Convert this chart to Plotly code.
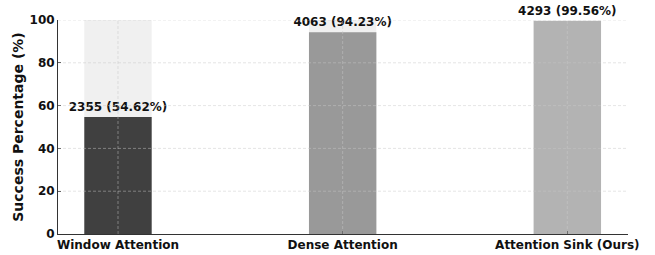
import plotly.graph_objects as go

categories = ["Window Attention", "Dense Attention", "Attention Sink (Ours)"]
success_counts = [2355, 4063, 4293]
success_pct = [54.62, 94.23, 99.56]
full_pct = [100, 100, 100]
bar_colors = ["#404040", "#999999", "#b3b3b3"]
y_ticks = [0, 20, 40, 60, 80, 100]

labels = [f"{c} ({p:.2f}%)" for c, p in zip(success_counts, success_pct)]
xs = list(range(len(categories)))

font_family = "DejaVu Sans"
fig = go.Figure()
fig.add_trace(go.Bar(x=xs, y=full_pct, width=0.3, marker=dict(color="#f0f0f0", line=dict(width=0)),
                     hoverinfo="skip", showlegend=False))
fig.add_trace(go.Bar(x=xs, y=success_pct, width=0.3, marker=dict(color=bar_colors, line=dict(width=0)),
                     text=labels, textposition="outside", cliponaxis=False, constraintext="none",
                     textfont=dict(family=font_family, size=12, color="#111111", weight="bold"),
                     showlegend=False))

# grid lines drawn above the bars (as in the reference)
grid_style = dict(color="rgba(200,200,200,0.6)", width=0.8, dash="3px,2px")
for t in y_ticks[1:]:
    fig.add_shape(type="line", xref="paper", yref="y", x0=0, x1=1, y0=t, y1=t,
                  line=grid_style, layer="above")
for x in xs:
    fig.add_shape(type="line", xref="x", yref="paper", x0=x, x1=x, y0=0, y1=1,
                  line=grid_style, layer="above")

fig.update_layout(
    width=655, height=255,
    margin=dict(l=58, r=27, t=20, b=21, autoexpand=False),
    plot_bgcolor="white", paper_bgcolor="white",
    barmode="overlay",
    font=dict(family=font_family, size=12, color="#111111"),
)
fig.update_xaxes(range=[-0.267, 2.27], tickvals=xs, ticktext=categories,
                 tickfont=dict(family=font_family, size=12, weight="bold"),
                 showline=True, linecolor="#333333", linewidth=1,
                 ticks="inside", ticklen=3, tickcolor="#333333",
                 showgrid=False, zeroline=False, automargin=False)
fig.update_yaxes(range=[0, 100], tickvals=y_ticks,
                 tickfont=dict(family=font_family, size=12, weight="bold"),
                 showline=True, linecolor="#333333", linewidth=1,
                 ticks="inside", ticklen=3, tickcolor="#333333",
                 showgrid=False, zeroline=False, automargin=False,
                 title=dict(text="<b>Success Percentage (%)</b>", font=dict(family=font_family, size=14), standoff=2))

# remove the default page margin so the figure fills the window exactly
fig.write_html("out.html", config={"displayModeBar": False},
               post_script="document.body.style.margin='0';document.body.style.overflow='hidden';")
